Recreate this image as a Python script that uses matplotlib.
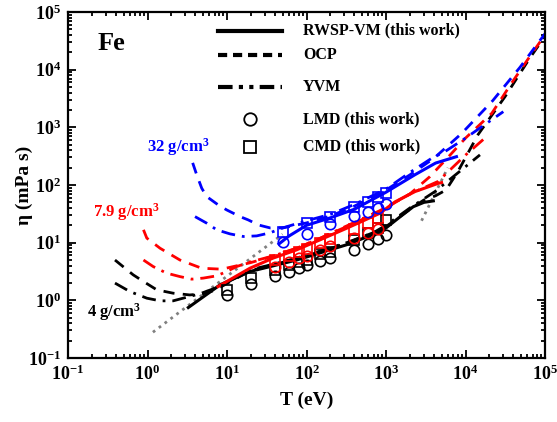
import matplotlib
matplotlib.use("Agg")
import matplotlib.pyplot as plt
from matplotlib.lines import Line2D
from matplotlib import ticker

plt.rcParams['font.family'] = 'Liberation Serif'
plt.rcParams['font.weight'] = 'bold'
plt.rcParams['mathtext.fontset'] = 'custom'
plt.rcParams['mathtext.rm'] = 'Liberation Serif:bold'
plt.rcParams['mathtext.it'] = 'Liberation Serif:italic:bold'
plt.rcParams['mathtext.bf'] = 'Liberation Serif:bold'
plt.rcParams['axes.unicode_minus'] = False

# ---- 4 g/cm3 (black) ----
t_rwsp_4 = [3.26, 8.2, 19.4, 38, 75, 148, 320, 700, 1000, 1500, 2200, 3000, 3940]
eta_rwsp_4 = [0.75, 1.86, 3.16, 3.96, 5.0, 6.65, 9.2, 14, 18, 28, 42, 50, 53]
t_ocp_4 = [0.39, 0.66, 0.89, 1.31, 2.1, 3.4, 5.0, 7.1, 10.9, 20, 40, 75, 150, 320, 700,
           1000, 2000, 3000, 4200, 5690, 8000, 14400, 31400, 64600, 1e5]
eta_ocp_4 = [5.0, 2.77, 2.12, 1.52, 1.33, 1.24, 1.3, 1.5, 2.1, 3.3, 4.2, 5.3, 7, 9.8, 15,
             19, 38, 55, 65, 82, 170, 750, 3400, 16000, 38000]
t_yvm_4 = [0.39, 0.60, 0.98, 1.44, 2.1, 3.1, 4.57, 6.7, 10.9, 20, 40, 75, 150, 320, 700,
           1000, 2000, 4130, 15200]
eta_yvm_4 = [1.99, 1.42, 1.09, 0.98, 0.98, 1.13, 1.3, 1.58, 2.18, 3.4, 4.3, 5.4, 7.2, 10, 15,
             20, 40, 77, 333]
t_md_4 = [10, 20, 40, 60, 80, 100, 150, 200, 400, 600, 800, 1000]
lmd_4 = [1.24, 1.91, 2.66, 3.16, 3.6, 4.12, 4.9, 5.5, 7.5, 9.5, 11.5, 13.6]
cmd_4 = [1.52, 2.43, 3.38, 4.12, 4.7, 5.03, 6.4, 7.0, 11, 14.5, 18, 24.8]

# ---- 7.9 g/cm3 (red) ----
t_rwsp_79 = [7.7, 19.4, 38, 75, 148, 320, 840, 1300, 2320, 4550, 5000]
eta_rwsp_79 = [1.73, 3.6, 5.4, 7.5, 11.2, 17.8, 32.4, 51, 77, 107, 110]
t_ocp_79 = [0.89, 0.98, 1.44, 2.56, 4.81, 8.6, 12, 19.4, 30, 40, 75, 150, 320, 840, 2000,
            3570, 6000, 10000, 21400, 40000, 70000, 1e5]
eta_ocp_79 = [16.7, 12, 8.0, 5.0, 3.6, 3.47, 3.85, 4.47, 5.3, 6, 8, 12, 19, 35, 70,
              140, 300, 650, 1750, 6500, 20000, 40000]
t_yvm_79 = [0.89, 1.18, 1.74, 2.56, 3.6, 5.04, 7.43, 9.9, 13.2, 19.4, 40, 75, 150, 320, 840,
            2000, 4500, 10000, 18400]
eta_yvm_79 = [5.0, 3.85, 2.96, 2.58, 2.33, 2.43, 2.66, 3.16, 3.85, 4.6, 6, 8, 12, 19.5, 36,
              70, 115, 330, 690]
t_md_79 = [40, 60, 80, 100, 150, 200, 400, 600, 800]
lmd_79 = [3.85, 4.7, 5.4, 5.9, 7.5, 8.6, 12, 14.6, 17.3]
cmd_79 = [5.03, 5.9, 7.0, 7.7, 9.8, 11.5, 17.1, 22.3, 26.6]

# ---- 32 g/cm3 (blue) ----
t_rwsp_32 = [45, 60, 100, 200, 400, 1000, 2300, 4200, 7700]
eta_rwsp_32 = [9.5, 13, 20, 27, 38, 75, 150, 240, 310]
t_ocp_32 = [3.7, 4.16, 4.81, 5.55, 7.78, 9.9, 14.6, 18.5, 24.8, 35, 50, 100, 200, 400, 1000,
            2000, 4000, 9000, 22000, 48500, 1e5]
eta_ocp_32 = [242, 150, 88, 63, 45, 37, 28.3, 24.8, 20.3, 18, 18, 22, 29, 43, 82,
              150, 290, 790, 2900, 11000, 42000]
t_yvm_32 = [3.96, 5.55, 7.43, 10.9, 16, 23.6, 34.7, 50, 100, 200, 400, 1000, 2000, 3760,
            5520, 10000, 29900]
eta_yvm_32 = [28.3, 21.8, 16.7, 14.2, 12.8, 13.1, 14.8, 18, 24, 31, 46, 85, 165, 291,
              380, 650, 1870]
t_md_32 = [50, 100, 200, 400, 600, 800, 1000]
lmd_32 = [10.2, 14.2, 21, 29, 34, 40.6, 46.4]
cmd_32 = [15.6, 21.8, 28.3, 41, 51.5, 63, 73.9]

# gray dotted limits
t_lim_low = [1.17, 50]
eta_lim_low = [0.28, 14]
t_lim_high = [2800, 6000]
eta_lim_high = [24, 200]

decades = [10.0 ** k for k in range(-1, 6)]

DASH = (4, 3)
DASHDOT = (5, 2.5, 1, 2.5)

fig = plt.figure(figsize=(5.57, 4.22), dpi=100)
ax = fig.add_axes([68 / 557, 1 - 358 / 422, 477 / 557, 346 / 422])

ax.plot(t_lim_low, eta_lim_low, ls=':', color='gray', lw=2)
ax.plot(t_lim_high, eta_lim_high, ls=':', color='gray', lw=2)

sets = [
    ('black', t_rwsp_4, eta_rwsp_4, t_ocp_4, eta_ocp_4, t_yvm_4, eta_yvm_4, t_md_4, lmd_4, cmd_4),
    ('red', t_rwsp_79, eta_rwsp_79, t_ocp_79, eta_ocp_79, t_yvm_79, eta_yvm_79, t_md_79, lmd_79, cmd_79),
    ('blue', t_rwsp_32, eta_rwsp_32, t_ocp_32, eta_ocp_32, t_yvm_32, eta_yvm_32, t_md_32, lmd_32, cmd_32),
]
for c, tr, er, to, eo, ty, ey, tm, lm, cm_ in sets:
    ax.plot(to, eo, color=c, lw=2, dashes=DASH)
    ax.plot(ty, ey, color=c, lw=2, dashes=DASHDOT)
    ax.plot(tr, er, color=c, lw=2.2)
for c, tr, er, to, eo, ty, ey, tm, lm, cm_ in sets:
    ax.plot(tm, lm, ls='none', marker='o', ms=7.5, mfc='none', mec=c, mew=1.2)
    ax.plot(tm, cm_, ls='none', marker='s', ms=7, mfc='none', mec=c, mew=1.2)

ax.set_xscale('log')
ax.set_yscale('log')
ax.set_xlim(0.1, 1e5)
ax.set_ylim(0.1, 1e5)
ax.xaxis.set_major_locator(ticker.FixedLocator(decades))
ax.yaxis.set_major_locator(ticker.FixedLocator(decades))
ax.xaxis.set_major_formatter(ticker.LogFormatterSciNotation())
ax.yaxis.set_major_formatter(ticker.LogFormatterSciNotation())
ax.xaxis.set_minor_locator(ticker.LogLocator(base=10, subs=range(2, 10), numticks=20))
ax.yaxis.set_minor_locator(ticker.LogLocator(base=10, subs=range(2, 10), numticks=20))
ax.xaxis.set_minor_formatter(ticker.NullFormatter())
ax.yaxis.set_minor_formatter(ticker.NullFormatter())

for s in ax.spines.values():
    s.set_linewidth(1.6)
ax.tick_params(which='both', direction='in', top=True, right=True, labelsize=13, width=1.3)
ax.tick_params(which='major', length=6, pad=5)
ax.tick_params(which='minor', length=3)

ax.set_xlabel('T (eV)', fontsize=14, fontweight='bold', labelpad=5)
ax.set_ylabel('η (mPa s)', fontsize=14, fontweight='bold')
ax.yaxis.set_label_coords(-0.073, 0.5)

# text labels
ax.text(0.061, 0.910, 'Fe', transform=ax.transAxes, fontsize=19, fontweight='bold', va='center')
ax.text(0.165, 0.610, '32 g/cm$^3$', transform=ax.transAxes, fontsize=12,
        color='blue', va='center')
ax.text(0.053, 0.422, '7.9 g/cm$^3$', transform=ax.transAxes, fontsize=12, color='red', va='center')
ax.text(0.039, 0.133, '4 g/cm$^3$', transform=ax.transAxes, fontsize=12, color='black', va='center')

# legend drawn by hand
lx0, lx1, lmid, ltx = 0.3145, 0.4486, 0.3816, 0.4927
entries = [
    (0.946, dict(ls='-', lw=3), 'RWSP-VM (this work)'),
    (0.876, dict(dashes=(2.2, 1.4), lw=3), 'OCP'),
    (0.783, dict(dashes=(3.5, 1.5, 1, 1.5, 1, 1.5), lw=3), 'YVM'),
]
for y, style, label in entries:
    ax.add_line(Line2D([lx0, lx1], [y, y], color='black', transform=ax.transAxes, **style))
    ax.text(ltx, y, label, transform=ax.transAxes, fontsize=11.5, va='center')
for y, m, label in [(0.690, 'o', 'LMD (this work)'), (0.611, 's', 'CMD (this work)')]:
    ax.add_line(Line2D([lmid], [y], marker=m, ms=9, mfc='none', mec='black', mew=1.3,
                       ls='none', transform=ax.transAxes))
    ax.text(ltx, y, label, transform=ax.transAxes, fontsize=11.5, va='center')

fig.savefig('out.png', dpi=100)
